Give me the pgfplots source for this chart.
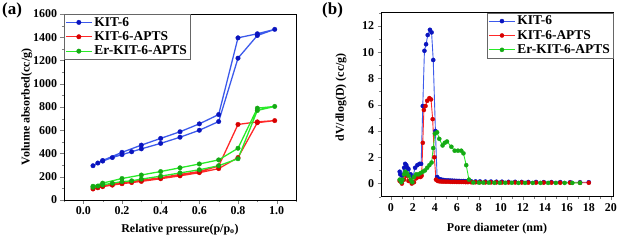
\documentclass[border=0pt]{standalone}
\usepackage{pgfplots}
\pgfplotsset{compat=1.18}
\usepackage{fontspec}
\setmainfont{Liberation Serif}
\definecolor{bl}{RGB}{60,90,235}
\definecolor{blm}{RGB}{10,20,190}
\definecolor{rd}{RGB}{255,40,40}
\definecolor{rdm}{RGB}{215,0,0}
\definecolor{gn}{RGB}{40,235,40}
\definecolor{gnm}{RGB}{20,170,20}
\begin{document}
\begin{tikzpicture}
\useasboundingbox (0bp,0bp) rectangle (618bp,-240bp);
\pgfplotsset{
  every axis/.append style={
    scale only axis, axis line style={line width=0.6pt},
    tick align=outside, xtick pos=left, ytick pos=left,
    major tick length=3.5bp, minor tick length=2bp,
    tick label style={font=\fontsize{12}{13}\selectfont\bfseries},
    label style={font=\fontsize{12}{13}\selectfont\bfseries},
    /pgf/number format/assume math mode=true,
    /pgf/number format/1000 sep={},
    legend style={font=\fontsize{13.5}{14}\selectfont\bfseries, draw=black!60, line width=0.4pt, inner sep=1pt, row sep=0pt},
    legend cell align=left,
    legend image code/.code={\draw[mark repeat=2,mark phase=2] plot coordinates {(0bp,0bp)(13bp,0bp)(26bp,0bp)};},
  },
}
\begin{axis}[at={(64bp,-200bp)}, anchor=south west, width=232bp, height=186bp,
  xmin=-0.1, xmax=1.1, ymin=0, ymax=1600,
  xtick={0,0.2,...,1.0}, minor xtick={-0.1,0.1,0.3,0.5,0.7,0.9,1.1},
  ytick={0,200,...,1600}, minor ytick={100,300,...,1500},
  xticklabel style={/pgf/number format/.cd, fixed, fixed zerofill, precision=1},
  xlabel={Relative pressure(p/p$_{\mathbf{o}}$)},
  ylabel={Volume absorbed(cc/g)},
  xlabel style={at={(axis description cs:0.5,-0.157)}, anchor=center},
  ylabel style={at={(axis description cs:-0.16,0.5)}, anchor=center},
  legend style={at={(0,1)}, anchor=north west},
  every axis plot/.append style={line width=1.3pt, mark=*, mark size=2.3pt},
]
\addplot[color=bl, mark options={fill=blm, draw=blm, line width=0.3pt}] coordinates {
(0.05,295)(0.075,318)(0.1,335)(0.15,365)(0.2,390)(0.25,415)(0.3,440)(0.4,487)(0.5,540)(0.6,600)(0.7,675)(0.8,1220)(0.9,1415)(0.99,1468)
(0.9,1430)(0.8,1395)(0.7,735)(0.6,655)(0.5,587)(0.4,530)(0.3,472)(0.2,410)(0.1,340)};
\addlegendentry{KIT-6}
\addplot[color=rd, mark options={fill=rdm, draw=rdm, line width=0.3pt}] coordinates {
(0.05,95)(0.075,105)(0.1,115)(0.15,128)(0.2,140)(0.25,150)(0.3,160)(0.4,183)(0.5,208)(0.6,235)(0.7,270)(0.8,365)(0.9,665)(0.99,683)
(0.9,672)(0.8,650)(0.7,292)(0.6,245)(0.5,220)(0.4,192)(0.3,170)(0.2,150)(0.1,122)};
\addlegendentry{KIT-6-APTS}
\addplot[color=gn, mark options={fill=gnm, draw=gnm, line width=0.3pt}] coordinates {
(0.05,110)(0.075,120)(0.1,130)(0.15,145)(0.2,158)(0.25,165)(0.3,180)(0.4,205)(0.5,233)(0.6,260)(0.7,295)(0.8,355)(0.9,770)(0.99,805)
(0.9,790)(0.8,445)(0.7,345)(0.6,310)(0.5,277)(0.4,245)(0.3,215)(0.2,185)(0.1,145)(0.05,118)};
\addlegendentry{Er-KIT-6-APTS}
\end{axis}
\node[anchor=north west, font=\fontsize{17}{18}\selectfont\bfseries, inner sep=0] at (2bp,-3bp) {(a)};
\node[anchor=north west, font=\fontsize{17}{18}\selectfont\bfseries, inner sep=0] at (322bp,-3bp) {(b)};
\begin{axis}[at={(381bp,-196.7bp)}, anchor=south west, width=232bp, height=184bp,
  xmin=-0.9, xmax=20.2, ymin=-1, ymax=13,
  xtick={0,2,...,20}, minor xtick={1,3,...,19},
  ytick={0,2,...,12}, minor ytick={-1,1,...,13},
  xlabel={Pore diameter (nm)},
  ylabel={dV/dlog(D) (cc/g)},
  xlabel style={at={(axis description cs:0.5,-0.175)}, anchor=center},
  ylabel style={at={(axis description cs:-0.172,0.54)}, anchor=center},
  legend style={at={(1,1)}, anchor=north east},
  every axis plot/.append style={line width=0.9pt, mark=*, mark size=2.1pt},
]
\addplot[color=bl, mark options={fill=blm, draw=blm, line width=0.3pt}] coordinates {
(0.8,0.9)(0.85,0.7)(1.0,0.6)(1.2,1.2)(1.3,1.5)(1.4,1.4)(1.5,1.2)(1.6,1.1)(1.8,0.7)(2.0,0.5)(2.2,1.2)(2.4,1.4)(2.6,1.5)(2.75,1.5)
(2.9,5.9)(3.05,10.1)(3.2,10.6)(3.35,11.3)(3.55,11.7)(3.7,11.5)(3.85,9.4)(4.05,4.0)(4.2,0.5)(4.4,0.35)(4.6,0.3)(4.8,0.27)(5.0,0.25)(5.2,0.24)(5.4,0.23)(5.6,0.22)(5.8,0.21)(6.0,0.2)(6.2,0.2)(6.4,0.19)(6.6,0.19)(6.8,0.18)(7.0,0.18)(7.3,0.17)(7.7,0.16)(8.1,0.16)(8.6,0.15)(9.1,0.15)(9.6,0.14)(10.1,0.14)(10.7,0.13)(11.3,0.13)(11.9,0.12)(12.5,0.12)(13.2,0.12)(13.9,0.11)(14.6,0.11)(15.4,0.11)(16.3,0.1)(17.2,0.1)(18.0,0.1)};
\addlegendentry{KIT-6}
\addplot[color=rd, mark options={fill=rdm, draw=rdm, line width=0.3pt}] coordinates {
(0.8,0.2)(1.0,0.0)(1.2,0.3)(1.4,0.6)(1.6,0.2)(1.9,0.0)(2.1,0.1)(2.3,0.4)(2.5,0.5)(2.7,0.5)(2.8,0.6)
(2.9,3.1)(3.0,5.6)(3.15,5.9)(3.3,6.3)(3.5,6.5)(3.65,6.4)(3.8,4.9)(3.95,2.0)(4.1,0.3)(4.25,0.2)(4.4,0.17)(4.6,0.15)(4.8,0.15)(5.0,0.14)(5.2,0.14)(5.4,0.13)(5.6,0.13)(5.8,0.13)(6.0,0.12)(6.2,0.12)(6.4,0.12)(6.6,0.12)(6.8,0.11)(7.0,0.11)(7.3,0.1)(7.7,0.1)(8.1,0.1)(8.6,0.09)(9.1,0.09)(9.6,0.09)(10.1,0.08)(10.7,0.08)(11.3,0.08)(11.9,0.08)(12.5,0.07)(13.2,0.07)(13.9,0.07)(14.6,0.07)(15.4,0.06)(16.3,0.06)(17.2,0.06)(18.0,0.06)};
\addlegendentry{KIT-6-APTS}
\addplot[color=gn, mark options={fill=gnm, draw=gnm, line width=0.3pt}] coordinates {
(0.8,0.3)(0.95,0.1)(1.05,0.3)(1.2,0.7)(1.3,0.9)(1.45,0.8)(1.6,0.6)(1.8,0.3)(1.95,0.1)(2.1,0.5)(2.3,0.7)(2.5,0.7)(2.7,0.8)(2.9,0.9)(3.1,1.0)(3.3,1.2)(3.5,1.4)(3.7,1.6)(3.85,2.7)(4.0,3.8)(4.2,3.9)(4.4,3.4)(4.7,2.9)(4.9,3.1)(5.1,3.2)(5.5,2.8)(5.8,2.5)(6.1,2.5)(6.4,2.5)(6.6,2.3)(6.85,1.4)(7.1,0.3)(7.5,0.08)(8.0,0.07)(8.4,0.07)(8.9,0.07)(9.4,0.06)(9.9,0.06)(10.4,0.06)(11.0,0.06)(11.6,0.05)(12.2,0.05)(12.9,0.05)(13.6,0.05)(14.3,0.05)(15.0,0.05)(15.8,0.05)(16.5,0.05)(17.2,0.05)};
\addlegendentry{Er-KIT-6-APTS}
\end{axis}
\end{tikzpicture}
\end{document}
